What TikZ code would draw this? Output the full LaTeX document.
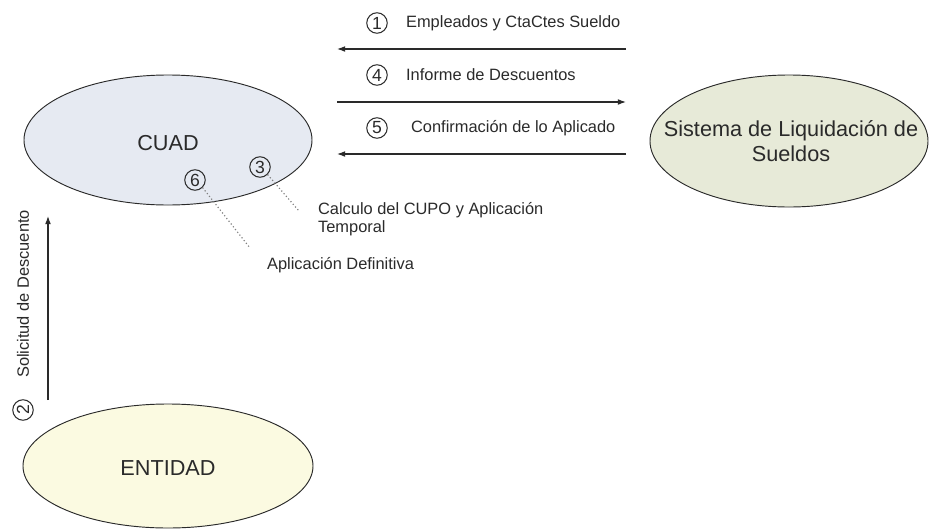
\documentclass[tikz,border=0pt]{standalone}
\usepackage{fontspec}
\setmainfont{Liberation Sans}
\usetikzlibrary{shapes.geometric,arrows.meta}

\definecolor{cuadfill}{HTML}{E6EAF2}
\definecolor{sldfill}{HTML}{E7EAD8}
\definecolor{entfill}{HTML}{FBFAE1}
\definecolor{inkgray}{HTML}{2A2A2A}

\tikzset{
  actor/.style={ellipse, draw=inkgray, line width=0.8pt, inner sep=0pt},
  bigtext/.style={font=\fontsize{18.5}{21}\selectfont, text=inkgray, align=center},
  smalltext/.style={font=\fontsize{14}{15.5}\selectfont, text=inkgray, align=left},
  numcirc/.style={circle, draw=inkgray, line width=0.9pt, inner sep=0pt,
    minimum size=17.5pt, font=\fontsize{15}{16}\selectfont, text=inkgray},
  flow/.style={draw=inkgray, line width=0.9pt, -{Latex[length=7pt,width=5pt]}},
  note/.style={draw=gray, line width=1pt, dotted}
}

\begin{document}
\begin{tikzpicture}[x=0.03cm, y=-0.03cm]
  \useasboundingbox (0,0) rectangle (929,529);

  % Draw the three actors
  \node[actor, fill=cuadfill, minimum width=8.64cm, minimum height=3.9cm] (cuad) at (168,140) {};
  \node[bigtext] (cuadtxt) at (168,143) {CUAD};

  \node[actor, fill=sldfill, minimum width=8.34cm, minimum height=3.96cm] (sld) at (789,141) {};
  \node[bigtext] (sldtxt) at (791,141) {Sistema de Liquidación de\\Sueldos};

  \node[actor, fill=entfill, minimum width=8.7cm, minimum height=3.72cm] (ent) at (168,466) {};
  \node[bigtext] (enttxt) at (168,468) {ENTIDAD};

  % Draw the flows between the systems
  \coordinate (f1r) at (626,49);  \coordinate (f1l) at (337,49);
  \coordinate (f4l) at (337,102); \coordinate (f4r) at (626,102);
  \coordinate (f5r) at (626,154); \coordinate (f5l) at (337,154);
  \draw[flow] (f1r) -- (f1l);
  \draw[flow] (f4l) -- (f4r);
  \draw[flow] (f5r) -- (f5l);

  \node[numcirc] (n1) at (377,23) {1};
  \node[smalltext, anchor=west] (t1) at (402,23) {Empleados y CtaCtes Sueldo};
  \node[numcirc] (n4) at (377,75) {4};
  \node[smalltext, anchor=west] (t4) at (402,75) {Informe de Descuentos};
  \node[numcirc] (n5) at (377,128) {5};
  \node[smalltext, anchor=west] (t5) at (407,128) {Confirmación de lo Aplicado};

  % Draw the request from the entity
  \coordinate (f2b) at (48,400); \coordinate (f2t) at (48,216);
  \draw[flow] (f2b) -- (f2t);
  \node[numcirc, rotate=90] (n2) at (23,410) {2};
  \node[smalltext, rotate=90, anchor=west] (t2) at (23,382) {Solicitud de Descuento};

  % Draw the internal steps of CUAD
  \node[numcirc] (n3) at (260,167) {3};
  \node[numcirc] (n6) at (195,180) {6};
  \node[smalltext, anchor=west] (t3) at (314,219) {Calculo del CUPO y Aplicación\\Temporal};
  \node[smalltext, anchor=west] (t6) at (263,265) {Aplicación Definitiva};
  \coordinate (d3) at (299,211);
  \coordinate (d6) at (250,248);
  \draw[note] (n3.south east) -- (d3);
  \draw[note] (n6.south east) -- (d6);
\end{tikzpicture}
\end{document}
